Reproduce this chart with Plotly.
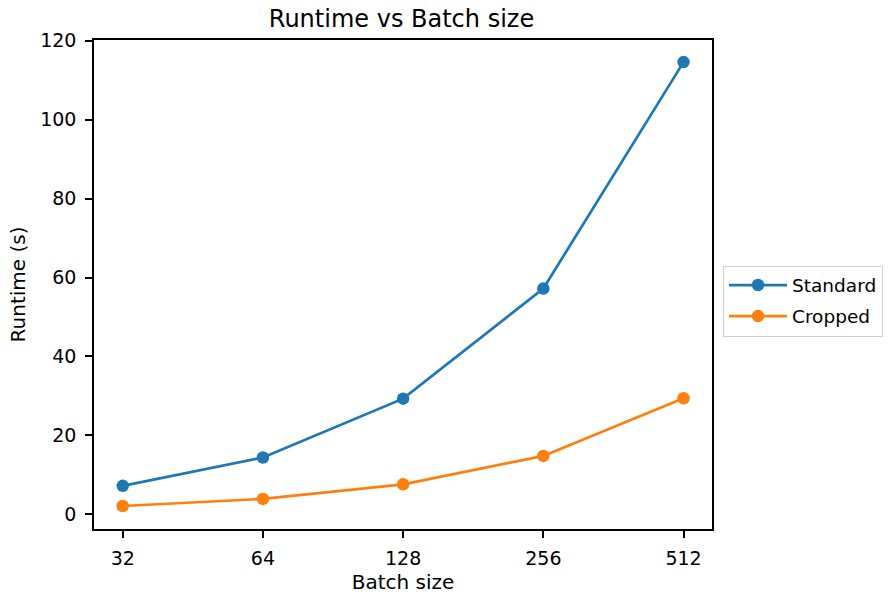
import numpy as np
import plotly.graph_objects as go

batch_sizes = [32, 64, 128, 256, 512]
standard_runtime = [7.2, 14.4, 29.3, 57.2, 114.6]
cropped_runtime = [2.1, 3.9, 7.6, 14.8, 29.4]
y_ticks = [0, 20, 40, 60, 80, 100, 120]

BLUE = "#1f77b4"
ORANGE = "#ff7f0e"
FONT = "DejaVu Sans"

W, H = 890, 594
L, R, T, B = 94, 712, 40, 529

fig = go.Figure()
fig.add_trace(go.Scatter(x=batch_sizes, y=standard_runtime, mode="lines+markers",
                         name="Standard", legendgroup="a",
                         line=dict(color=BLUE, width=2.7),
                         marker=dict(color=BLUE, size=12.5)))
fig.add_trace(go.Scatter(x=batch_sizes, y=cropped_runtime, mode="lines+markers",
                         name="Cropped", legendgroup="b",
                         line=dict(color=ORANGE, width=2.7),
                         marker=dict(color=ORANGE, size=12.5)))

lo = np.log10(32) - 0.205 * np.log10(2)
hi = np.log10(512) + 0.203 * np.log10(2)

axis_common = dict(showgrid=False, zeroline=False, showline=True, linecolor="black",
                   linewidth=1.6, mirror=True, ticks="outside", ticklen=7, tickwidth=1.6,
                   tickcolor="black", tickfont=dict(size=19, color="black"),
                   automargin=False)

fig.update_layout(
    width=W, height=H,
    margin=dict(l=L, r=W - R, t=T, b=H - B, autoexpand=False),
    paper_bgcolor="white", plot_bgcolor="white",
    font=dict(family=FONT, size=19, color="black"),
    title=dict(text="Runtime vs Batch size", x=401.5 / W, xanchor="center",
               y=1 - 19 / H, yanchor="middle", font=dict(size=24, color="black")),
    showlegend=True,
    legend=dict(x=(723 - L) / (R - L), xanchor="left",
                y=(B - 301) / (B - T), yanchor="middle",
                bordercolor="#d0d0d0", borderwidth=1, bgcolor="rgba(255,255,255,0.8)",
                font=dict(size=18.5, color="black"), itemwidth=58, tracegroupgap=4),
    xaxis=dict(type="log", range=[lo, hi], tickvals=batch_sizes,
               ticktext=[str(b) for b in batch_sizes], ticklabelstandoff=4,
               title=dict(text="Batch size", font=dict(size=20), standoff=8),
               **axis_common),
    yaxis=dict(range=[-3.73, 120.2], tickvals=y_ticks, ticklabelstandoff=5,
               title=dict(text="Runtime (s)", font=dict(size=20), standoff=9),
               **axis_common),
)

fig.write_html("out.html", config={"displayModeBar": False},
               post_script="document.body.style.margin='0px';")
